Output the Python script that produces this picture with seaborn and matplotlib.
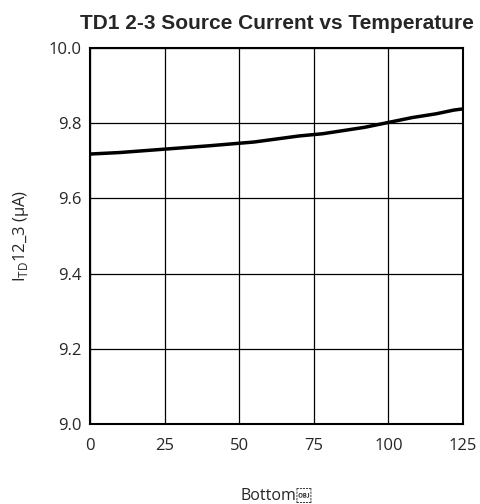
import matplotlib
matplotlib.use("Agg")
import matplotlib.pyplot as plt
import seaborn as sns
import pandas as pd

temperature = [0, 10, 25, 40, 55, 70, 78, 92, 100, 108, 116, 122, 125]
current_uA = [9.718, 9.722, 9.731, 9.740, 9.750, 9.766, 9.772, 9.789, 9.802, 9.815, 9.825, 9.835, 9.838]
x_ticks = [0, 25, 50, 75, 100, 125]
y_ticks = [9.0, 9.2, 9.4, 9.6, 9.8, 10.0]

sns.set_style("white")
plt.rcParams['font.family'] = ['Open Sans', 'DejaVu Sans']
plt.rcParams['mathtext.fontset'] = 'custom'
plt.rcParams['mathtext.rm'] = 'Open Sans'

df = pd.DataFrame({"T": temperature, "I": current_uA})

fig = plt.figure(figsize=(4.81, 5.04), dpi=100)
ax = fig.add_axes([90/481, 80/504, 373/481, 376/504])
sns.lineplot(data=df, x="T", y="I", ax=ax, color="black", linewidth=2.5)

ax.set_xlim(0, 125)
ax.set_ylim(9.0, 10.0)
ax.set_xticks(x_ticks)
ax.set_yticks(y_ticks)
ax.set_xticklabels([str(t) for t in x_ticks], fontsize=12)
ax.set_yticklabels([f"{v:.1f}" for v in y_ticks], fontsize=12)
ax.grid(True, color="black", linewidth=0.9)
for s in ax.spines.values():
    s.set_visible(True)
    s.set_color("black")
    s.set_linewidth(1.5)
ax.tick_params(axis="x", length=0, pad=10)
ax.tick_params(axis="y", length=0, pad=6)
ax.set_xlabel("Bottom\ufffc", fontsize=11.5, labelpad=24)
ax.set_ylabel(r"I$_{\mathrm{TD}}$12_3 (µA)", fontsize=12, labelpad=13)
ax.set_title("TD1 2-3 Source Current vs Temperature", fontsize=15, fontweight="bold",
             family="Liberation Sans", pad=14)

fig.savefig("out.png", dpi=100)
